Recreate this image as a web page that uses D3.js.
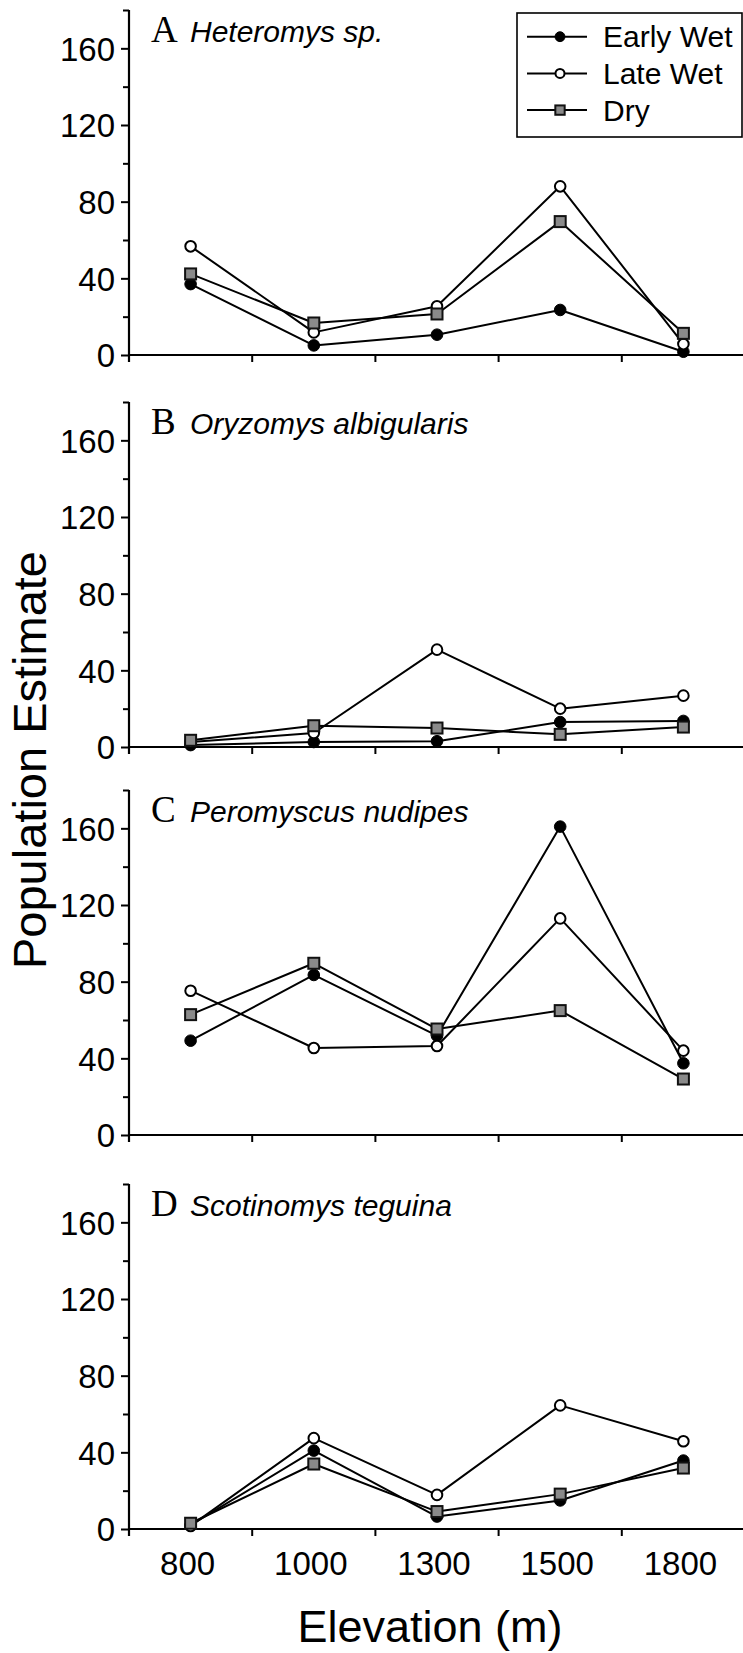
<!DOCTYPE html>
<html>
<head>
<meta charset="utf-8">
<script src="https://cdn.jsdelivr.net/npm/d3@7"></script>
<style>
  html, body { margin: 0; padding: 0; background: #fff; }
  svg { display: block; }
</style>
</head>
<body>
<svg id="chart" width="743" height="1653"></svg>
<script>
// Elevation sites (m) and trapping seasons
const elevations = ["800", "1000", "1300", "1500", "1800"];
const seasons = ["Early Wet", "Late Wet", "Dry"];
const yTickValues = [0, 40, 80, 120, 160];
const yMinorValues = [20, 60, 100, 140, 180];

// Population estimates per species, one array per season (ordered by elevation)
const heteromysEarlyWet = [37, 5, 10.6, 23.5, 1.7];
const heteromysLateWet  = [56.7, 11.8, 25.4, 88, 5.7];
const heteromysDry      = [42.3, 16.7, 21.4, 69.6, 11.3];

const oryzomysEarlyWet = [1, 2.6, 3, 13, 13.6];
const oryzomysLateWet  = [2.6, 7.3, 50.8, 20, 26.8];
const oryzomysDry      = [3.5, 11.1, 9.9, 6.6, 10.4];

const peromyscusEarlyWet = [49.2, 83.5, 51.8, 160.9, 37.4];
const peromyscusLateWet  = [75.3, 45.4, 46.4, 113, 44];
const peromyscusDry      = [62.8, 89.6, 55.3, 64.9, 29.2];

const scotinomysEarlyWet = [2, 40.9, 6.5, 14.9, 35.7];
const scotinomysLateWet  = [1.6, 47.4, 17.8, 64.5, 45.8];
const scotinomysDry      = [3, 33.9, 9.1, 18.2, 31.8];

const panelLetters = ["A", "B", "C", "D"];
const speciesNames = ["Heteromys sp.", "Oryzomys albigularis", "Peromyscus nudipes", "Scotinomys teguina"];

const panels = [
  [heteromysEarlyWet, heteromysLateWet, heteromysDry],
  [oryzomysEarlyWet, oryzomysLateWet, oryzomysDry],
  [peromyscusEarlyWet, peromyscusLateWet, peromyscusDry],
  [scotinomysEarlyWet, scotinomysLateWet, scotinomysDry]
];

const SANS = "'Liberation Sans', Arial, Helvetica, sans-serif";
const SERIF = "'Liberation Serif', 'Times New Roman', serif";

const svg = d3.select("#chart");

// layout
const axisX = 129;
const plotRight = 745;
const panelTops = [10, 402, 790, 1184];
const panelHeight = 345;

const x = d3.scaleBand().domain(elevations).range([axisX, plotRight]).paddingInner(0).paddingOuter(0);
const cx = d => x(d) + x.bandwidth() / 2;

// marker drawing per season
function drawMarker(g, season, px, py, scale) {
  const s = scale || 1;
  if (season === "Early Wet") {
    g.append("circle").attr("cx", px).attr("cy", py).attr("r", 5.8 * s)
      .attr("fill", "#000").attr("stroke", "#000").attr("stroke-width", 1);
  } else if (season === "Late Wet") {
    g.append("circle").attr("cx", px).attr("cy", py).attr("r", 5.3 * s)
      .attr("fill", "#fff").attr("stroke", "#000").attr("stroke-width", 2);
  } else {
    const h = 5.5 * s;
    g.append("rect").attr("x", px - h).attr("y", py - h)
      .attr("width", 2 * h).attr("height", 2 * h)
      .attr("fill", "#8a8a8a").attr("stroke", "#111").attr("stroke-width", 2);
  }
}

panels.forEach((series, i) => {
  const top = panelTops[i];
  const y = d3.scaleLinear().domain([0, 180]).range([top + panelHeight, top]);
  const g = svg.append("g");

  // y axis: major ticks with labels
  const yAxis = d3.axisLeft(y).tickValues(yTickValues).tickSize(8).tickPadding(6).tickFormat(d3.format("d"));
  const ya = g.append("g").attr("transform", `translate(${axisX},0)`).call(yAxis);
  ya.select(".domain").remove();
  ya.selectAll(".tick line").attr("stroke", "#000").attr("stroke-width", 2);
  ya.selectAll(".tick text")
    .attr("font-family", SANS).attr("font-size", 33).attr("fill", "#000")
    .attr("dy", "0.36em");

  // y axis: minor ticks
  const ym = g.append("g").attr("transform", `translate(${axisX},0)`)
    .call(d3.axisLeft(y).tickValues(yMinorValues).tickSize(6).tickFormat(""));
  ym.select(".domain").remove();
  ym.selectAll(".tick line").attr("stroke", "#000").attr("stroke-width", 2);

  // y axis line
  g.append("line")
    .attr("x1", axisX).attr("x2", axisX)
    .attr("y1", y(180)).attr("y2", y(0) + 7)
    .attr("stroke", "#000").attr("stroke-width", 2.2);

  // x axis line and boundary ticks
  g.append("line")
    .attr("x1", axisX).attr("x2", 743)
    .attr("y1", y(0)).attr("y2", y(0))
    .attr("stroke", "#000").attr("stroke-width", 2.2);
  elevations.slice(1).forEach(e => {
    g.append("line")
      .attr("x1", x(e)).attr("x2", x(e))
      .attr("y1", y(0)).attr("y2", y(0) + 7)
      .attr("stroke", "#000").attr("stroke-width", 2);
  });

  // panel title
  const title = g.append("text")
    .attr("x", 151).attr("y", top + 32)
    .attr("fill", "#000");
  title.append("tspan").attr("font-family", SERIF).attr("font-size", 37).text(panelLetters[i]);
  title.append("tspan").attr("x", 190).attr("font-family", SANS).attr("font-size", 30)
    .attr("font-style", "italic").text(speciesNames[i]);

  // series lines and markers
  const line = d3.line().x((d, k) => cx(elevations[k])).y(d => y(d));
  series.forEach((vals) => {
    g.append("path").datum(vals)
      .attr("d", line)
      .attr("fill", "none").attr("stroke", "#000").attr("stroke-width", 2)
      .attr("stroke-linejoin", "round");
  });
  series.forEach((vals, si) => {
    vals.forEach((v, k) => drawMarker(g, seasons[si], cx(elevations[k]), y(v)));
  });

  // x tick labels on the bottom panel only
  if (i === panels.length - 1) {
    g.selectAll(".xlab").data(elevations).enter().append("text")
      .attr("x", d => cx(d) - 3).attr("y", y(0) + 46)
      .attr("text-anchor", "middle")
      .attr("font-family", SANS).attr("font-size", 33).attr("fill", "#000")
      .text(d => d);
  }
});

// legend in the top panel
const legend = svg.append("g");
legend.append("rect")
  .attr("x", 517).attr("y", 13).attr("width", 225).attr("height", 124)
  .attr("fill", "#fff").attr("stroke", "#000").attr("stroke-width", 1.6);
seasons.forEach((s, i) => {
  const cy = 36.7 + i * 36.7;
  legend.append("line").attr("x1", 527).attr("x2", 587).attr("y1", cy).attr("y2", cy)
    .attr("stroke", "#000").attr("stroke-width", 2);
  drawMarker(legend, s, 560, cy, 0.85);
  legend.append("text").attr("x", 603).attr("y", cy + 10.6)
    .attr("font-family", SANS).attr("font-size", 30).attr("fill", "#000").text(s);
});

// axis titles
svg.append("text")
  .attr("transform", "translate(46,760) rotate(-90)")
  .attr("text-anchor", "middle")
  .attr("font-family", SANS).attr("font-size", 47).attr("fill", "#000")
  .text("Population Estimate");

svg.append("text")
  .attr("x", 430).attr("y", 1642)
  .attr("text-anchor", "middle")
  .attr("font-family", SANS).attr("font-size", 45).attr("fill", "#000")
  .text("Elevation (m)");
</script>
</body>
</html>
